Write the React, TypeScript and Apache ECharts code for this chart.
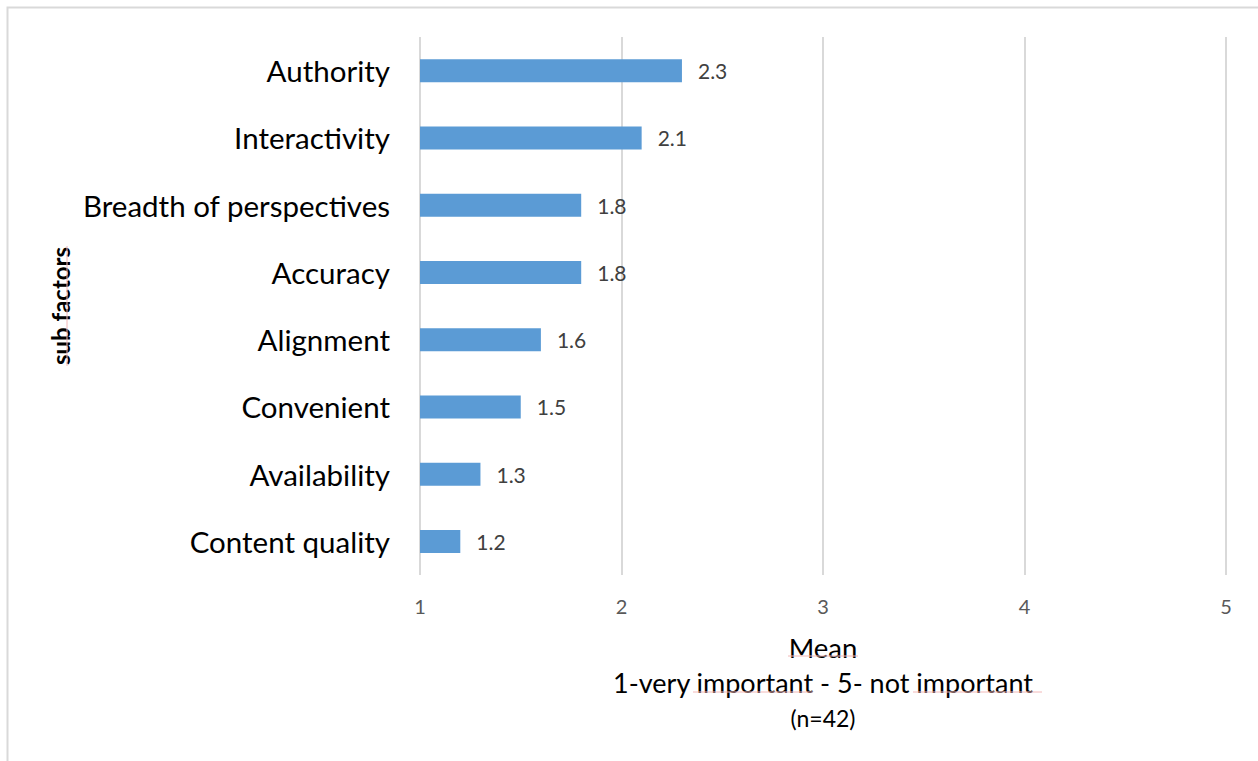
import React, { useEffect, useRef } from "react";
import * as echarts from "echarts";

const categories = [
  "Content quality",
  "Availability",
  "Convenient",
  "Alignment",
  "Accuracy",
  "Breadth of perspectives",
  "Interactivity",
  "Authority",
];
const values = [1.2, 1.3, 1.5, 1.6, 1.8, 1.8, 2.1, 2.3];
const xTicks = [1, 2, 3, 4, 5];
const yTitle = "sub factors";
const xTitle1 = "Mean";
const xTitle2 = "1-very important - 5- not important";
const xTitle3 = "(n=42)";

const FONT = "Lato, 'Open Sans', sans-serif";
const SQUIGGLE = "#f2b8b8";

export default function App() {
  const ref = useRef<HTMLDivElement>(null);
  useEffect(() => {
    document.body.style.margin = "0";
    const chart = echarts.init(ref.current!, null, { renderer: "svg" });
    chart.setOption({
      animation: false,
      backgroundColor: "#ffffff",
      grid: { left: 420, right: 32, top: 37, bottom: 186 },
      xAxis: {
        type: "value",
        min: xTicks[0],
        max: xTicks[xTicks.length - 1],
        interval: 1,
        axisLine: { show: false },
        axisTick: { show: false },
        splitLine: { show: true, lineStyle: { color: "#d9d9d9", width: 2 } },
        axisLabel: {
          color: "#595959",
          fontSize: 20,
          fontFamily: FONT,
          margin: 21,
        },
      },
      yAxis: {
        type: "category",
        data: categories,
        axisLine: { show: false },
        axisTick: { show: false },
        axisLabel: {
          color: "#000000",
          fontSize: 29.5,
          fontFamily: FONT,
          margin: 30,
        },
      },
      series: [
        {
          type: "bar",
          data: values,
          barWidth: 23,
          itemStyle: { color: "#5b9bd5" },
          label: {
            show: true,
            position: "right",
            distance: 16,
            color: "#404040",
            fontSize: 21,
            fontFamily: FONT,
            formatter: (p: any) => p.value.toFixed(1),
          },
        },
      ],
      graphic: [
        {
          type: "rect",
          shape: { x: 7.5, y: 7.5, width: 1400, height: 1000 },
          style: { fill: "none", stroke: "#d9d9d9", lineWidth: 2 },
          silent: true,
        },
        {
          type: "text",
          x: 60,
          y: 306,
          rotation: Math.PI / 2,
          style: {
            text: yTitle,
            fontSize: 24,
            fontWeight: "bold",
            fontFamily: FONT,
            fill: "#000",
            align: "center",
            verticalAlign: "middle",
          },
        },
        {
          type: "line",
          shape: { x1: 67, y1: 246, x2: 67, y2: 366 },
          style: { stroke: SQUIGGLE, lineWidth: 1 },
        },
        {
          type: "text",
          x: 823,
          y: 647,
          style: {
            text: xTitle1,
            fontSize: 27.5,
            fontFamily: FONT,
            fill: "#000",
            align: "center",
            verticalAlign: "middle",
          },
        },
        {
          type: "line",
          shape: { x1: 788, y1: 656, x2: 858, y2: 656 },
          style: { stroke: SQUIGGLE, lineWidth: 1 },
        },
        {
          type: "text",
          x: 823,
          y: 682,
          style: {
            text: xTitle2,
            fontSize: 27,
            fontFamily: FONT,
            fill: "#000",
            align: "center",
            verticalAlign: "middle",
          },
        },
        {
          type: "line",
          shape: { x1: 693, y1: 692, x2: 813, y2: 692 },
          style: { stroke: SQUIGGLE, lineWidth: 1 },
        },
        {
          type: "line",
          shape: { x1: 913, y1: 692, x2: 1042, y2: 692 },
          style: { stroke: SQUIGGLE, lineWidth: 1 },
        },
        {
          type: "text",
          x: 823,
          y: 718,
          style: {
            text: xTitle3,
            fontSize: 23,
            fontFamily: FONT,
            fill: "#000",
            align: "center",
            verticalAlign: "middle",
          },
        },
      ],
    });
    return () => chart.dispose();
  }, []);
  return (
    <div
      ref={ref}
      style={{ position: "absolute", left: 0, top: 0, width: 1258, height: 761 }}
    />
  );
}
